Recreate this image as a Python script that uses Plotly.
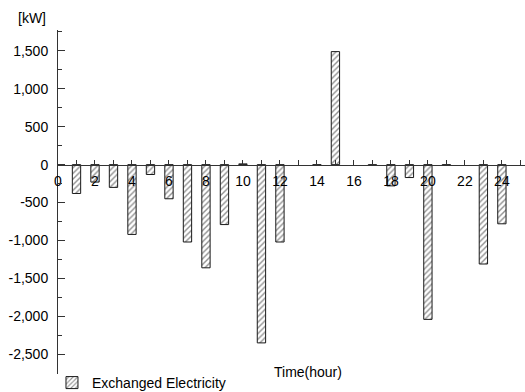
import plotly.graph_objects as go

# Hourly exchanged electricity (kW); negative = export, positive = import.
# None marks hours with no exchange.
hours = list(range(1, 25))
exchanged_kw = [-380, -230, -300, -920, -130, -450, -1020, -1360, -790, 10,
                -2350, -1020, None, -10, 1490, None, -10, -280, -170, -2040,
                -10, None, -1310, -780]

y_ticks = [-2500, -2000, -1500, -1000, -500, 0, 500, 1000, 1500]
y_labels = [f"{v:,}" for v in y_ticks]
x_ticks = list(range(0, 25, 2))
x_labels = [str(v) for v in x_ticks]

y_min, y_max = -2760, 1775
zero_pos = (0 - y_min) / (y_max - y_min)

FONT = "Liberation Sans, Arial, sans-serif"
FS = 14
AXIS_COLOR = "#333333"

fig = go.Figure()
fig.add_trace(go.Bar(
    x=hours,
    y=exchanged_kw,
    width=0.45,
    name="Exchanged Electricity",
    marker=dict(
        color="white",
        line=dict(color="#1a1a1a", width=1),
        pattern=dict(shape="/", fgcolor="#222222", bgcolor="white",
                     size=4, solidity=0.35),
    ),
    showlegend=True,
))

fig.update_layout(
    width=525, height=392,
    margin=dict(l=58, r=0, t=30, b=18, autoexpand=False),
    paper_bgcolor="white", plot_bgcolor="white",
    font=dict(family=FONT, size=FS, color="black"),
    showlegend=True,
    legend=dict(
        xref="container", yref="container",
        x=0.099, y=0.023, xanchor="left", yanchor="middle",
        orientation="h", bgcolor="rgba(0,0,0,0)",
        font=dict(family=FONT, size=FS, color="black"),
        itemwidth=30, tracegroupgap=0,
    ),
    xaxis=dict(
        range=[0, 25.25],
        anchor="free", position=zero_pos,
        tickmode="array", tickvals=x_ticks, ticktext=x_labels,
        ticks="inside", ticklen=5, tickcolor=AXIS_COLOR,
        minor=dict(dtick=1, tick0=0, ticks="inside", ticklen=5,
                   tickcolor=AXIS_COLOR),
        showline=True, linecolor=AXIS_COLOR, linewidth=1,
        showgrid=False, zeroline=False,
        ticklabelstandoff=4,
        tickfont=dict(family=FONT, size=FS, color="black"),
    ),
    yaxis=dict(
        range=[y_min, y_max],
        tickmode="array", tickvals=y_ticks, ticktext=y_labels,
        ticks="inside", ticklen=7, tickcolor=AXIS_COLOR,
        minor=dict(dtick=250, tick0=0, ticks="inside", ticklen=4,
                   tickcolor=AXIS_COLOR),
        showline=True, linecolor=AXIS_COLOR, linewidth=1,
        showgrid=False, zeroline=False,
        ticklabelstandoff=6,
        tickfont=dict(family=FONT, size=FS, color="black"),
    ),
    annotations=[
        dict(text="[kW]", xref="paper", yref="paper", x=-0.056, y=1.0,
             xanchor="center", yanchor="bottom", yshift=2, showarrow=False,
             font=dict(family=FONT, size=FS, color="black")),
        dict(text="Time(hour)", xref="paper", yref="paper", x=0.535, y=0.0,
             xanchor="center", yanchor="middle", yshift=2, showarrow=False,
             font=dict(family=FONT, size=FS, color="black")),
    ],
)

fig.write_html("out.html")
